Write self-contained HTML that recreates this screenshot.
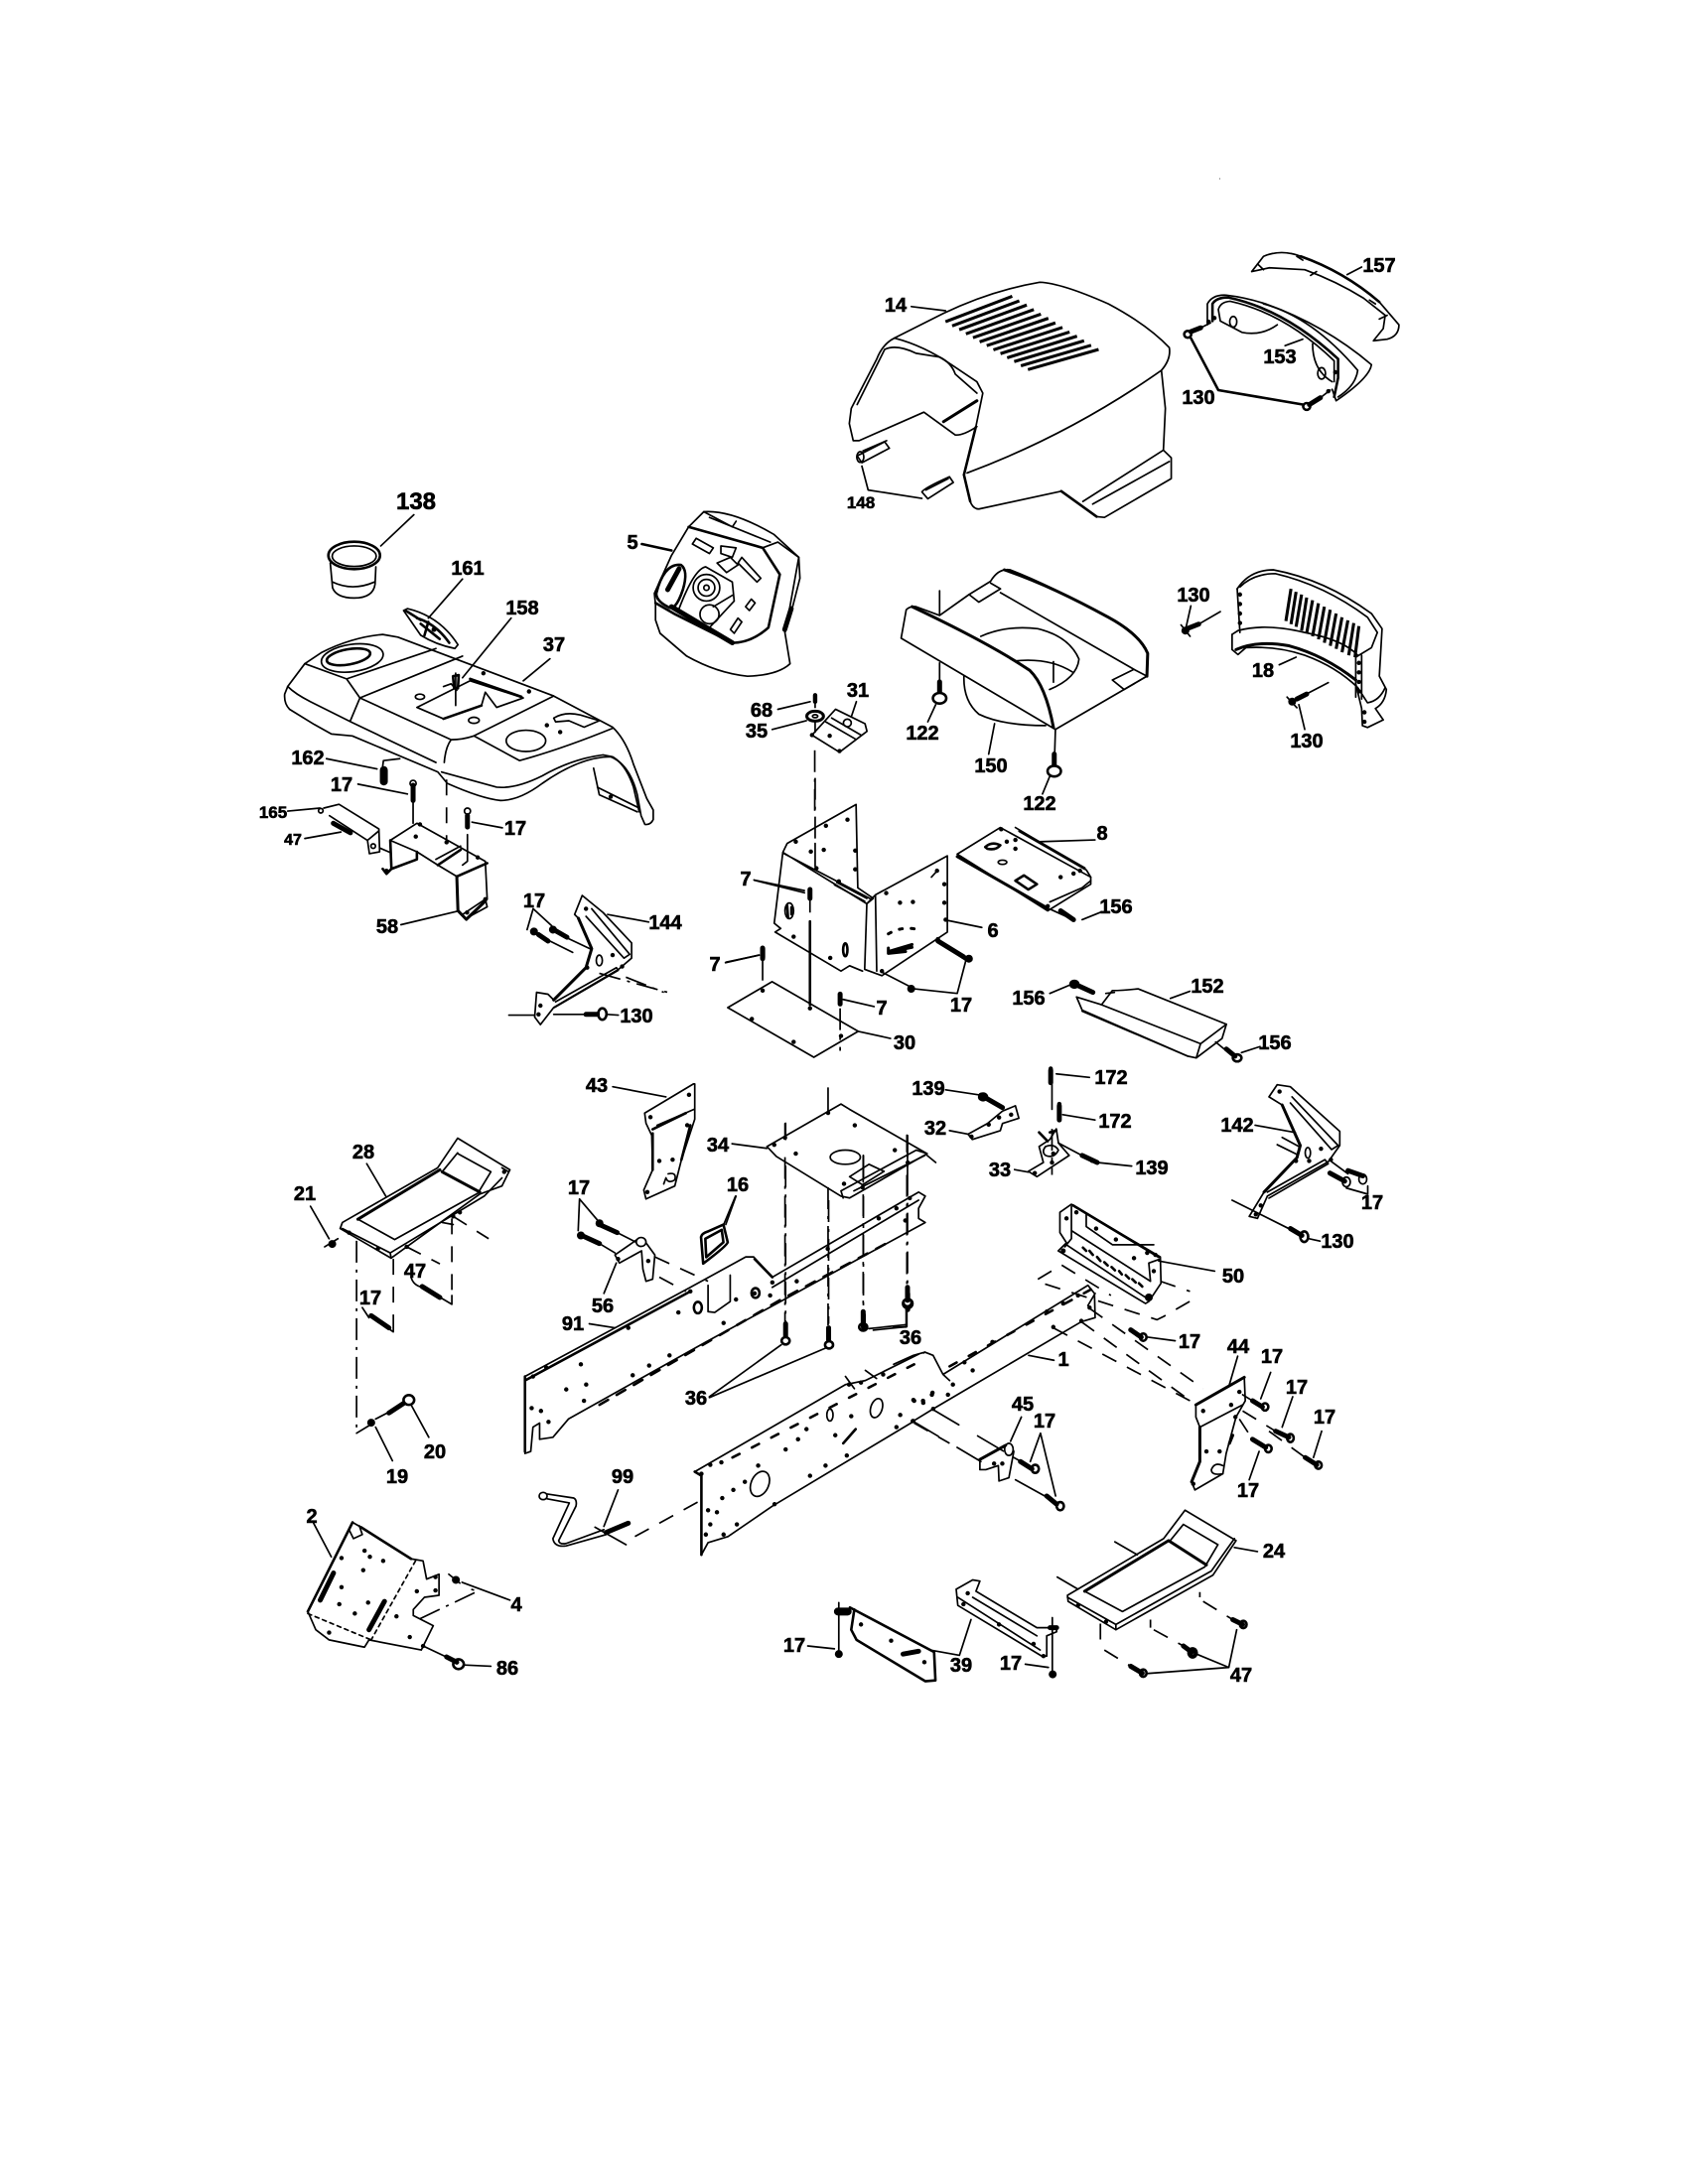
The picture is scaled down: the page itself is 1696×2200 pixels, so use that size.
<!DOCTYPE html>
<html><head><meta charset="utf-8"><style>
html,body{margin:0;padding:0;background:#fff}
svg{display:block}
.g *{vector-effect:non-scaling-stroke}
.g{fill:none;stroke:#000;stroke-width:1.7;stroke-linejoin:round;stroke-linecap:round}
.t{stroke-width:2.6}
.v{stroke-width:3.1;stroke-linecap:butt}
.d{stroke-width:4.4}
.s{stroke-width:3}
.b{stroke-width:8}
.m{stroke-width:5}
.l{stroke-dasharray:22 7 3 7;stroke-linecap:butt}
.k{stroke-dasharray:16 12;stroke-linecap:butt}
.w{fill:#fff}
text{font-family:"Liberation Sans",sans-serif;font-weight:bold;font-size:20px;fill:#000;stroke:#000;stroke-width:.6px;text-anchor:middle}
</style></head><body>
<svg width="1696" height="2200" viewBox="0 0 1696 2200" xmlns="http://www.w3.org/2000/svg">
<rect width="1696" height="2200" fill="#fff"/>

<!-- Crop 1 region -->
<g class="g" transform="translate(240,460) scale(.3827)">
<ellipse cx="305" cy="260" rx="68" ry="36" class="t"/><ellipse cx="305" cy="262" rx="58" ry="27"/>
<path d="M242 280L248 345Q258 372 305 372Q355 372 360 335L362 290M248 330Q300 355 358 330M375 235L462 153"/>
<path d="M435 405L445 400Q530 420 578 495L570 505Q520 495 480 470Z"/><path class="t" d="M470 425Q520 440 555 490M480 440L530 480M500 435L490 470M440 405L480 430"/><path class="m" d="M515 455h.1"/>
<path d="M500 425L590 322"/>
<!-- hood 37 -->
<path d="M122 625L130 605L175 545L220 515Q300 475 380 468L420 475L830 630L985 712Q1020 745 1040 810L1075 900L1092 930L1092 955Q1085 970 1070 968L1060 945L1050 890Q1030 810 980 790Q900 790 800 860Q740 905 690 905Q640 900 550 860L525 830L300 735L245 730L200 705L135 665Q120 650 122 625Z"/>
<path d="M130 605Q150 625 190 645L300 700L520 805M535 830L680 870Q730 875 800 840Q880 795 960 785L985 790Q1020 810 1040 870L1055 935"/>
<path d="M175 545L285 585L320 635L560 745Q590 745 620 735L830 630M285 585L520 505M320 635L590 525M320 635L295 695M620 735L740 800Q850 770 985 715M560 745Q545 765 542 805"/>
<ellipse cx="300" cy="530" rx="82" ry="36" transform="rotate(-8 300 530)"/><ellipse cx="290" cy="527" rx="58" ry="20" class="t" transform="rotate(-10 290 527)"/>
<path d="M470 660L610 590L750 635L680 660L650 620L640 655L540 690Z"/><path class="t" d="M540 690L640 655M610 585L745 632"/><path d="M540 605L560 598L575 615M572 570L572 655"/>
<path class="t" d="M565 578L580 575L578 610L568 610Z"/><ellipse cx="478" cy="632" rx="12" ry="7"/><ellipse cx="620" cy="694" rx="14" ry="8"/>
<ellipse cx="757" cy="748" rx="52" ry="28"/>
<path d="M830 688Q860 670 900 680L950 695L910 712L870 695L835 698Z"/>
<path class="d" d="M812 707h.1M847 725h.1M645 570h.1M765 618h.1"/>
<path d="M935 820L950 890L1050 935"/><path class="d" d="M980 895h.1"/><path d="M945 870L1055 925"/>
<path d="M590 582L718 425M750 590L820 532M972 1205L1080 1225"/>
<!-- 162 -->
<path d="M232 795L365 822M380 815L382 800L425 795"/><path class="b" d="M383 825V855"/>
<path d="M315 862L445 888M460 905V965"/><path class="m" d="M460 865V905"/><circle cx="460" cy="860" r="8"/>
<path class="k" d="M548 850V1010"/>
<path class="m" d="M603 945V975"/><circle cx="603" cy="933" r="8"/><path d="M615 962L695 977M603 995V1065M603 1065L590 1075"/>
<!-- 165/47 -->
<path d="M130 933L215 925M175 1005L270 988"/><circle cx="217" cy="932" r="6"/>
<path d="M225 925L265 915L370 980L372 1040L345 1045L340 1010L240 945"/><path d="M340 1010L370 985"/><path class="m" d="M250 965L295 990"/>
<circle cx="355" cy="1025" r="6"/><path d="M372 1030L400 1042"/>
<!-- 58 -->
<path d="M400 1010L470 965L650 1065L655 1165L600 1218L578 1195L575 1105L525 1075L470 1040Z"/>
<path class="t" d="M400 1010L403 1085L390 1098L380 1085M403 1085L470 1060L470 1040M525 1075L585 1035M575 1105L655 1070"/><path class="s" d="M575 1105L578 1195L600 1218L650 1170"/>
<path d="M590 1205L650 1165L655 1185L600 1215M520 1060L585 1025"/>
<path class="d" d="M467 1000h.1M548 1015h.1M478 968h.1M630 1055h.1M390 1090h.1M602 1200h.1M650 1165h.1"/>
<path d="M428 1232L575 1197"/>
<!-- 144 -->
<path d="M905 1155L885 1205L895 1215L930 1295L915 1345L830 1430L815 1415L785 1410L780 1475L795 1495L830 1450L1000 1350L1035 1320L1035 1280L960 1200Z"/>
<path d="M930 1190L1030 1310L1015 1320L915 1210M835 1435L995 1345L1000 1352L832 1450"/><path class="s" d="M895 1215L930 1295L915 1345L830 1430"/>
<path class="d" d="M915 1190h.1M985 1312h.1M918 1345h.1M1010 1342h.1M795 1445h.1M790 1468h.1"/><ellipse cx="950" cy="1326" rx="8" ry="14"/>
<path class="l" d="M950 1360L1130 1410M1020 1370L1120 1410"/>
<path d="M776 1190L760 1245M776 1190L825 1235M800 1265L880 1305M840 1255L925 1295"/><path class="m" d="M835 1248L865 1265M790 1258L815 1275"/><path class="b" d="M828 1245h.1M778 1250h.1"/>
<path d="M712 1470H780M830 1468H910"/><path class="m" d="M915 1468H945"/><ellipse cx="958" cy="1467" rx="11" ry="15" class="t"/><path d="M970 1468L1000 1470"/>
<!-- 5 -->
<path d="M1098 390L1095 360L1140 260L1185 185L1225 145Q1300 140 1410 205L1475 265L1478 320L1455 410L1438 460L1452 545Q1420 575 1340 578Q1260 570 1180 525L1110 465L1098 430Z"/>
<path class="t" d="M1185 185L1380 240L1425 310L1395 450Q1350 490 1300 490L1150 415L1098 385"/><path d="M1225 145L1300 185L1310 170M1240 160L1400 225M1380 240L1420 225L1475 265L1440 460"/><path class="m" d="M1140 395L1300 490M1455 400L1438 455"/>
<path class="t" d="M1100 360Q1120 280 1165 285Q1185 300 1170 350Q1150 410 1130 395Q1100 380 1100 360Z"/><path class="m" d="M1130 350L1160 295"/>
<path d="M1160 400Q1200 295 1230 290L1300 330L1305 380L1240 450"/><circle cx="1232" cy="345" r="35"/><circle cx="1232" cy="345" r="22"/><circle cx="1232" cy="345" r="7"/><circle cx="1240" cy="415" r="25"/><path d="M1250 395L1300 365"/>
<path d="M1335 395L1350 375L1360 385L1345 405ZM1295 455L1315 425L1325 435L1305 465Z"/>
<path d="M1195 230L1205 215L1250 240L1240 255ZM1315 280L1325 265L1375 320L1365 330ZM1270 235L1310 240L1300 265L1270 255ZM1260 280L1295 265L1315 285L1285 305Z"/>
<path class="t" d="M1062 230L1140 247"/>
<!-- 68 35 -->
<path d="M1420 665L1505 645M1405 718L1495 695"/><path class="d" d="M1518 628V645"/><path d="M1518 645V660"/>
<ellipse cx="1518" cy="683" rx="22" ry="13" class="s"/><ellipse cx="1518" cy="683" rx="7" ry="4"/>
<path d="M1518 700V725"/>
<path d="M1358 1115L1490 1148"/>
<path d="M1282 1332L1370 1312"/><path class="m" d="M1380 1295V1318"/>
</g>

<!-- Crop 2 region -->
<g class="g" transform="translate(800,220) scale(.3954,.3827)">
<path d="M255 315L380 250Q500 190 625 168Q680 170 800 225Q900 280 955 340Q960 370 935 400L945 500L940 610L960 630L960 685L790 787L770 785L680 718L470 765Q455 765 448 745L432 675L462 550L480 460L465 430L400 385Q330 335 255 315Z"/>
<path d="M255 315Q225 330 210 370L145 500L140 540L150 585L165 585L330 510L410 570Q430 572 465 548M230 345Q260 330 310 355L370 365Q400 380 410 410L465 460M160 490L230 345"/>
<path class="s" d="M380 535L465 480"/><path class="t" d="M432 675L448 745M462 550L432 675"/>
<path d="M440 670Q700 570 935 400M735 745L940 610M760 752L955 640"/><path class="t" d="M680 718L770 785"/>
<path d="M298 232L385 243"/>
<path class="v" d="M385 272L555 205M402 283L573 217M420 293L592 228M437 304L610 240M455 314L628 252M472 325L647 263M490 335L665 275M507 346L683 287M525 356L701 299M542 367L720 310M560 377L738 322M577 388L756 334M595 398L775 345"/>
<path d="M160 625L230 588L242 605L172 643Z"/><ellipse cx="168" cy="628" rx="9" ry="14"/><path d="M175 612L235 585"/>
<path d="M325 720Q330 710 395 680L405 695L340 738Z"/><path d="M335 715L392 685"/>
<path d="M172 652L188 715L325 737"/>
<!-- 157 -->
<path d="M1165 140L1195 100Q1240 80 1290 100Q1400 140 1490 220L1540 280Q1540 310 1510 318L1475 322L1500 290L1505 255L1450 210Q1380 165 1300 135L1210 130L1165 140Z"/>
<path d="M1180 120L1195 135M1280 100L1295 110M1315 150L1330 140M1465 215L1480 225M1490 265L1510 255"/><path class="t" d="M1290 100Q1400 140 1490 220"/>
<path d="M1408 148L1445 128"/>
<!-- 153 -->
<path d="M1052 280L1052 225Q1065 200 1100 202Q1150 208 1200 225Q1350 280 1470 385Q1465 420 1380 480L1370 450"/>
<path class="t" d="M1065 270L1065 225Q1075 208 1105 208Q1250 240 1385 370L1385 420L1375 470"/><path d="M1080 240Q1085 220 1110 218Q1250 250 1375 375L1375 430M1080 240L1085 270L1140 300Q1190 310 1230 280M1320 330Q1320 400 1370 430M1195 225Q1320 260 1435 400Q1430 440 1385 470"/>
<ellipse cx="1118" cy="272" rx="9" ry="14"/><ellipse cx="1343" cy="408" rx="10" ry="15"/>
<path class="d" d="M1055 272h.1M1070 262h.1M1378 405h.1M1360 455h.1"/>
<path d="M1250 335L1295 318"/>
<circle cx="1002" cy="305" r="9" class="t"/><path class="m" d="M1010 298L1035 288"/><path d="M1035 288L1060 275"/>
<circle cx="1305" cy="495" r="9" class="t"/><path class="m" d="M1312 490L1340 472"/><path d="M1340 472L1365 452"/>
<path class="t" d="M1010 315L1080 452L1295 490"/>
<!-- 150 -->
<path d="M272 1105L285 1030Q295 1020 310 1022L370 1045L445 990L500 955Q520 920 550 925Q650 965 800 1050Q880 1095 900 1145L898 1205L665 1345Z"/>
<path class="s" d="M300 1022Q500 1120 600 1190Q640 1230 660 1340M535 925Q650 965 800 1050Q880 1095 900 1145L898 1205"/>
<path d="M475 1100Q540 1070 620 1080Q700 1100 725 1160Q720 1210 650 1240M560 1165Q650 1155 710 1195M432 1205Q430 1270 470 1305Q530 1335 640 1335M525 985L870 1190M445 990L470 1010L525 975L500 960M810 1215L840 1240L898 1205L865 1187Z"/>
<path d="M370 980V1045M370 1170V1250M665 1345L662 1445M510 1330L495 1410M360 1280L340 1325M650 1470L632 1515"/><path class="l" d="M660 1165V1240"/>
<path class="m" d="M370 1220V1250M662 1410V1445"/><ellipse cx="370" cy="1263" rx="17" ry="14" class="t w"/><ellipse cx="662" cy="1455" rx="17" ry="14" class="t w"/>
<!-- 31 -->
<path d="M45 1360L105 1292L180 1330L185 1350L115 1405Z"/><path d="M80 1325L155 1370M95 1315L170 1360"/><circle cx="135" cy="1328" r="10"/><path class="d" d="M45 1360h.1M90 1362h.1M115 1402h.1"/><path d="M145 1312L158 1272"/>
<path d="M52 1400V1560" class="l"/>
<!-- 130 + 18 -->
<path d="M1010 1020L998 1075M1010 1080L1085 1035M1285 1280L1300 1345M1280 1265L1360 1222"/>
<path class="b" d="M996 1085h.1M1268 1272h.1"/><path class="m" d="M1005 1078L1030 1068M1280 1265L1305 1252"/><path d="M985 1070L1008 1100M1255 1260L1280 1288"/>
<path d="M1128 975Q1160 925 1220 925Q1350 950 1470 1040L1497 1080L1490 1205L1508 1240Q1505 1275 1480 1290L1500 1320L1460 1340L1447 1335L1445 1290L1430 1225"/>
<path d="M1135 970Q1170 935 1225 935Q1350 965 1460 1050L1485 1090L1470 1130L1430 1155M1115 1095L1130 1085Q1200 1065 1300 1090Q1400 1110 1435 1150"/>
<path class="s" d="M1125 1135Q1180 1110 1260 1125Q1350 1150 1430 1215"/>
<path d="M1115 1095V1135L1130 1148L1150 1130Q1230 1125 1300 1150Q1380 1180 1435 1235L1460 1275Q1490 1270 1505 1235M1128 975L1135 1090M1430 1155V1260M1445 1150V1265"/>
<path class="d" d="M1135 990h.1M1135 1015h.1M1135 1040h.1M1135 1065h.1M1438 1170h.1M1438 1195h.1M1438 1220h.1M1438 1245h.1M1452 1300h.1M1452 1325h.1"/>
<path class="v" d="M1265 975L1252 1060M1278 983L1265 1068M1292 990L1278 1075M1305 998L1292 1085M1320 1005L1305 1092M1335 1013L1320 1100M1350 1022L1335 1108M1365 1030L1350 1117M1380 1040L1365 1125M1395 1050L1380 1133M1410 1058L1395 1142M1425 1065L1412 1150M1438 1073L1428 1155"/>
<path d="M1235 1175L1278 1155"/>
</g>

<!-- Crop 3 region -->
<g class="g" transform="translate(680,780) scale(.4337,.3571)">
<path d="M260 195L420 85L424 320L460 350L445 365L250 220L230 420L245 435L232 445L385 555L405 540L435 555M260 195L250 220M250 222L455 352"/>
<path d="M370 312L440 358M375 305L445 350"/>
<path class="d" d="M280 190h.1M350 145h.1M400 128h.1M418 215h.1M418 268h.1M315 218h.1M345 213h.1M328 265h.1M380 302h.1M275 458h.1M360 518h.1"/>
<path class="t" d="M260 370L262 405M270 375L270 395"/><ellipse cx="265" cy="385" rx="10" ry="22"/><ellipse cx="395" cy="495" rx="5" ry="18" class="t"/>
<path d="M445 365L440 550L480 568L632 445L632 230L465 340L445 365M465 340L468 555"/><path class="d" d="M490 335h.1M608 272h.1M625 310h.1M625 362h.1M628 410h.1M522 362h.1M552 360h.1M480 555h.1M610 465h.1"/>
<path class="s" d="M495 450Q530 425 570 440" stroke-dasharray="3 9"/><path class="s" d="M495 500L550 480M495 490L495 505L535 500M510 498L550 488"/>
<path d="M595 290L610 270"/>
<path d="M632 412L712 432"/>
<path d="M183 298L300 328"/><path class="m" d="M313 325V350"/>
<path d="M313 350V390" class="l"/><path class="t" d="M313 415V650"/><path class="l" d="M325 10V190"/><path d="M325 195V260"/>
<path d="M118 530L195 510"/><path class="m" d="M203 490V520"/><path class="l" d="M203 520V600"/>
<path d="M122 658L225 585L425 725L322 798Z"/><path class="d" d="M203 610h.1M178 690h.1M313 660h.1M275 755h.1M385 738h.1"/>
<path d="M425 725L500 745"/>
<path d="M390 635L462 655"/><path class="m" d="M383 620V648"/><path class="l" d="M383 660V780"/>
<path d="M610 470L675 525L655 618L555 605L480 558"/><path class="b" d="M682 520h.1M548 605h.1"/><path class="m" d="M610 470L670 515"/>
<!-- 8 -->
<path d="M655 225L755 150L965 290L965 310L865 385L655 225"/><path class="s" d="M655 232L865 378"/><path d="M790 150L955 270M870 360L945 320L965 300M955 270L965 290"/><path class="s" d="M800 160L950 265"/>
<path class="t" d="M720 205Q735 188 755 200Q745 215 725 210ZM790 300L810 285L840 310L820 325Z"/><ellipse cx="760" cy="248" rx="10" ry="6"/>
<path class="d" d="M770 190h.1M790 210h.1M790 185h.1M757 155h.1M895 290h.1M925 280h.1M865 372h.1M940 272h.1"/>
<path d="M845 190L975 185"/>
<path d="M870 380L915 405"/><path class="m" d="M895 385L925 410"/><path d="M945 410L990 388"/>
<!-- 152 -->
<path d="M932 628L945 665L1190 795L1210 800L1270 745L1280 705L1075 605Q1040 610 1015 610L990 650L932 628Z"/><path d="M990 650L1220 760L1210 800M1220 760L1280 705M1000 618L1020 615M1190 795L945 668"/>
<path d="M870 618L915 595M1150 632L1195 612"/><path class="m" d="M925 590L970 615"/><circle cx="927" cy="592" r="7" class="d"/>
<path d="M1255 755L1290 790"/><path class="m" d="M1280 775L1300 795"/><circle cx="1305" cy="800" r="10" class="t"/><path d="M1315 785L1358 768"/>
<!-- 172 -->
<path d="M885 845L962 855M900 960L975 975M875 875V945"/><path class="m" d="M872 835V870M892 935V975"/><path class="d" d="M872 830h.1M892 930h.1"/>
<path class="l" d="M875 1000V1130"/>
<!-- 139 32 -->
<path d="M628 890L710 905"/><path class="m" d="M710 905L760 940"/><circle cx="715" cy="910" r="7" class="d"/>
<path d="M680 1015L725 985L760 950L790 935L798 970L760 985L755 1005L690 1030Z"/><path class="d" d="M688 1022h.1M728 988h.1M752 968h.1M780 960h.1"/><path d="M637 1005L680 1015"/>
<!-- 33 -->
<path d="M820 1120L855 1095L845 1050L870 1030L885 1000L890 1040L915 1075L840 1135L820 1120"/><path d="M860 1050Q880 1040 890 1060Q880 1085 860 1075Q850 1065 860 1050Z"/><path class="t" d="M870 1010L885 1005M845 1010L865 1035"/><path class="d" d="M835 1125h.1M878 1070h.1M875 1095h.1"/>
<path d="M788 1115L820 1122M890 1040L960 1085"/><path class="m" d="M945 1075L980 1095"/><path class="d" d="M968 1090h.1"/><path d="M980 1095L1060 1105"/>
<!-- 34 -->
<path d="M213 1050L385 930L405 945L585 1070L405 1195L385 1190L235 1078Z"/><path d="M390 1195L385 1175L560 1060L585 1070M415 1175L580 1075M585 1075L605 1095"/>
<ellipse cx="395" cy="1080" rx="35" ry="20"/><path d="M405 1135L450 1100L485 1120L435 1158Z"/>
<path class="d" d="M255 1025h.1M230 1045h.1M355 955h.1M417 990h.1M280 1070h.1M510 1060h.1M392 1155h.1M435 1165h.1M540 1095h.1"/>
<path d="M132 1042L213 1055M355 885V955M255 985V1020M538 1018V1065M437 1075V1140"/>
<path class="l" d="M255 1080V1560M355 1165V1560M437 1190V1510M538 1130V1450"/>
<path class="m" d="M540 1465V1510M437 1525V1560"/><ellipse cx="540" cy="1493" rx="11" ry="13" class="t w"/>
<path d="M538 1510V1558L460 1568"/>
<!-- 16 -->
<path class="t" d="M60 1305Q62 1295 75 1290L112 1270L122 1320Q120 1330 65 1380Z"/><path class="t" d="M70 1310L108 1285L112 1320L72 1362Z"/><path d="M112 1272L140 1190"/>
</g>

<!-- Crop 4 region -->
<g class="g" transform="translate(260,1060) scale(.4464,.4082)">
<!-- 43 -->
<path d="M800 85L920 110M982 78L872 150L875 175L888 205L890 290L870 340L875 362L940 330L955 265L985 165L985 78ZM900 180L985 140"/><path class="t" d="M890 190L965 150M890 200V290M955 265L975 180"/><path class="d" d="M972 105h.1M968 180h.1M935 265h.1M878 345h.1M905 268h.1M885 160h.1"/><path d="M925 300Q945 295 940 315Q925 325 920 310M920 310L915 325"/>
<!-- 28 -->
<path d="M190 420L405 285L450 212L568 290L550 330L500 350L300 508L185 435Z"/><path class="s" d="M225 412L410 290M500 345L415 295"/><path d="M225 412L308 462L500 345M450 250L525 295L500 340M415 295L450 248M190 435L298 495L300 508M298 495L510 355L550 310M550 285L565 295"/>
<path class="d" d="M205 445h.1M270 485h.1M335 480h.1M440 405h.1M455 395h.1M555 295h.1"/><path d="M415 420L440 425"/>
<path d="M245 275L288 355M118 380L160 460"/><path class="b" d="M167 473h.1"/><path d="M150 480L180 460"/><path class="l" d="M222 465V940"/><path d="M222 940L255 918"/>
<path class="k" d="M305 510V650"/><path d="M305 650V690L265 660"/><path class="m" d="M255 650L295 680"/><path d="M235 630L250 655"/>
<path class="k" d="M437 410V600"/><path d="M437 600V622L380 585"/><path class="m" d="M370 578L410 605"/><path d="M345 555Q350 575 370 580"/>
<path class="k" d="M335 480L410 522M440 405L520 460"/>
<!-- 19,20 -->
<path d="M265 905L300 885"/><path class="m" d="M295 890L330 865"/><circle cx="340" cy="858" r="12" class="t w"/><path class="b" d="M255 914h.1"/><path d="M345 870L385 950M265 925L303 1008"/>
<!-- 17/56 -->
<path d="M725 362L722 440M725 362L770 420"/><path class="m" d="M770 425L810 445M730 452L770 472"/><path class="b" d="M770 422h.1M728 452h.1"/>
<path d="M810 445L855 470M770 472L805 495"/>
<path d="M805 500L855 462L875 470L895 500L890 560L875 565L868 535L865 490L815 520Z"/><circle cx="864" cy="468" r="11" class="w"/><path class="d" d="M812 510h.1M880 515h.1"/><path d="M808 520L780 595"/>
<path class="k" d="M895 505L1015 565M905 555L965 590"/>
<path d="M1055 425L1078 355"/>
<!-- 91 -->
<path d="M602 800L975 580L1100 505L1118 505L1160 555L1490 345L1505 355L1490 385L1490 410L1505 420L1170 620L1010 715L700 905L665 950L635 955L635 915L620 925L615 985L602 990Z"/>
<path class="t" d="M602 800V985M602 810L975 590M1120 510L1160 555"/>
<path d="M1015 575V640L1030 642L1065 615V550M1160 580L1490 365"/>
<path class="t" d="M770 870L1180 610L1420 470" stroke-dasharray="10 10"/>
<path class="d" d="M620 800h.1M650 778h.1M728 770h.1M695 832h.1M740 820h.1M735 860h.1M617 878h.1M638 885h.1M655 912h.1M835 680h.1M845 797h.1M882 773h.1M928 748h.1M948 642h.1M975 590h.1M1078 610h.1M1050 668h.1M1155 600h.1M1215 565h.1M1160 568h.1M1285 485h.1M1400 410h.1M1440 385h.1M1470 360h.1M1460 415h.1M1120 595h.1"/>
<ellipse cx="992" cy="630" rx="9" ry="14" class="t"/><ellipse cx="1122" cy="594" rx="9" ry="12" class="t"/>
<path d="M747 670L805 680"/>
<path class="l" d="M1190 280V665M1287 365V670M1365 255V635M1465 205V575"/>
<path d="M1190 175V215M1365 255V320M1465 205V300"/>
<path class="m" d="M1190 670V700M1287 680V710M1365 640V672M1465 580V612"/>
<circle cx="1190" cy="712" r="9" class="t"/><circle cx="1288" cy="722" r="9" class="t"/><circle cx="1365" cy="678" r="9" class="t"/><circle cx="1465" cy="618" r="9" class="t"/>
<path d="M1378 682L1463 672V632M1018 850L1180 722M1018 852L1280 730"/>
<!-- 99 -->
<circle cx="643" cy="1095" r="9" class="w"/><path d="M652 1090L712 1100Q720 1105 717 1120L678 1205Q680 1215 695 1212L780 1178M652 1102L702 1112L665 1200Q668 1222 695 1218L785 1190"/>
<path class="m" d="M785 1185L835 1162"/><path d="M760 1172L830 1215M812 1080L780 1170"/><path class="k" d="M850 1195L995 1108"/>
<!-- 1 left part -->
<path class="t" d="M985 1035L1000 1045V1240"/><path d="M985 1035L1325 820L1370 810L1490 745M1000 1240L1015 1210L1060 1195L1160 1120L1480 910"/>
<path d="M1325 800L1345 830M1370 785L1395 805"/>
<ellipse cx="1132" cy="1065" rx="20" ry="32" transform="rotate(20 1132 1065)"/>
<ellipse cx="1395" cy="878" rx="13" ry="24" transform="rotate(15 1395 878)"/><ellipse cx="1290" cy="895" rx="7" ry="15"/><path class="t" d="M1320 965L1348 930"/>
<path class="t" d="M1070 1000L1480 770" stroke-dasharray="8 14"/>
<path class="d" d="M1000 1040h.1M1020 1018h.1M1045 1012h.1M1128 1020h.1M1098 1060h.1M1072 1080h.1M1047 1100h.1M1015 1130h.1M1035 1135h.1M1020 1165h.1M1050 1190h.1M1080 1165h.1M1010 1190h.1M1190 980h.1M1218 955h.1M1237 930h.1M1302 945h.1M1338 898h.1M1280 1020h.1M1245 1045h.1M1328 995h.1M1165 1115h.1M1440 925h.1M1478 910h.1M1480 860h.1M1500 860h.1M1520 845h.1M1333 820h.1M1360 815h.1M1410 795h.1"/>
<path class="k" d="M1480 915L1560 965"/>
<!-- 2 -->
<path d="M213 1160L112 1380L130 1425L160 1450L240 1468L250 1450L368 1475L395 1415L350 1390L350 1375L375 1345L408 1340L408 1288L380 1300L372 1255L345 1250L232 1172Z"/><path class="t" d="M213 1160L112 1380M232 1172L345 1250"/><path d="M205 1178L215 1200L235 1190L228 1168"/>
<path d="M112 1385L255 1450M355 1255L255 1450" stroke-dasharray="4 4"/>
<path class="m" d="M170 1285L140 1352M285 1355L250 1425"/>
<path class="d" d="M240 1230h.1M282 1255h.1M252 1245h.1M188 1248h.1M237 1278h.1M188 1320h.1M183 1362h.1M218 1385h.1M248 1358h.1M312 1392h.1M342 1443h.1M358 1330h.1M400 1295h.1M400 1328h.1M160 1432h.1M372 1465h.1"/>
<path d="M165 1245L125 1162"/>
<path class="l" d="M365 1398L495 1330L480 1325"/>
<path d="M460 1308L568 1352"/><path class="b" d="M446 1302h.1"/><path d="M430 1288L455 1310"/>
<path d="M372 1465L430 1495"/><path class="m" d="M425 1492L448 1505"/><circle cx="452" cy="1510" r="12" class="t"/><path d="M465 1512L525 1515"/>
<!-- 39 left -->
<path d="M1310 1358V1475M1240 1465L1300 1472"/><path class="b" d="M1308 1380H1330M1310 1485h.1"/>
<path class="t" d="M1335 1370L1525 1480L1528 1550L1505 1552L1350 1450L1338 1425L1345 1375"/><path class="m" d="M1455 1485L1490 1478"/><path class="d" d="M1360 1412h.1M1428 1452h.1M1503 1505h.1"/>
</g>

<!-- Crop 5 region -->
<g class="g" transform="translate(900,1060) scale(.3316,.4082)">
<!-- 142 -->
<path d="M1165 80L1140 110L1180 130L1235 230L1225 260L1125 345L1080 405L1105 410L1135 355L1320 270L1355 230L1355 195L1205 85Z"/><path class="s" d="M1180 130L1235 230L1225 260L1125 345"/><path d="M1210 110L1350 230L1330 240L1205 125M1135 345L1310 265L1320 275L1140 360"/>
<path class="d" d="M1172 97h.1M1298 238h.1M1222 268h.1M1328 265h.1M1115 378h.1M1100 400h.1M1262 268h.1"/><ellipse cx="1258" cy="248" rx="8" ry="13"/>
<path d="M1098 180L1220 198M1180 210L1230 232M1165 228L1225 252"/>
<path d="M1028 365L1200 435"/><path class="m" d="M1205 435L1240 452"/><ellipse cx="1247" cy="455" rx="12" ry="13" class="t"/><path d="M1262 460L1295 466"/>
<path d="M1330 270L1380 300"/><path class="m" d="M1325 298L1370 318M1380 292L1425 305"/><ellipse cx="1375" cy="320" rx="12" ry="12"/><ellipse cx="1425" cy="313" rx="12" ry="12"/><path d="M1375 335L1440 350V330"/>
<!-- 50 -->
<path d="M505 395L540 375L810 505L812 570L775 615L765 620L500 490L525 470L505 445Z"/><path d="M540 380V460L520 480M585 400V430L665 475H790M540 440L780 565L775 520L810 510M525 475L765 605"/><path class="t" d="M545 378L805 505"/>
<path class="d" d="M525 410h.1M555 395h.1M615 435h.1M675 462h.1M730 508h.1M770 495h.1M795 500h.1M790 540h.1M775 605h.1"/><path class="m" d="M515 490h.1"/><path class="b" d="M775 605h.1"/>
<path class="t" d="M575 482L585 490M595 490L605 500M618 505L628 515M640 518L650 526M662 530L672 538M685 540L693 548M705 550L715 558M725 560L735 568M745 570L755 578"/>
<path d="M805 515L975 540"/>
<path class="k" d="M438 560L510 525L660 600M460 572L800 660L820 652L920 605M810 565L900 590"/>
<!-- 36 tail -->
<path d="M0 678H38V630"/>
<!-- 1 right part -->
<path d="M91 742L95 740L120 748L150 795L590 575L610 595L612 655L570 665L120 880L60 910M612 595L590 625M150 795L170 810"/>
<path d="M0 770L60 748L95 740"/>
<path class="t" d="M170 775L600 585" stroke-dasharray="8 14"/>
<path class="d" d="M118 840h.1M60 858h.1M90 865h.1M165 845h.1M180 820h.1M240 785h.1M215 765h.1M300 715h.1M465 640h.1M515 620h.1M560 600h.1M595 630h.1M570 663h.1M485 678h.1M120 880h.1M58 910h.1M20 895h.1"/>
<path d="M410 748L487 760"/>
<path class="k" d="M595 632L940 830M570 665L910 865M485 680L900 860"/>
<path d="M120 882L335 985M58 910L265 1010" stroke-dasharray="30 22"/>
<path class="m" d="M720 685L752 703"/><ellipse cx="758" cy="703" rx="10" ry="9" class="t"/><path d="M772 703L855 712"/>
<!-- 45 -->
<path d="M262 1005L350 965L365 985L350 1050L320 1058L318 1020L280 1030L262 1030Z"/><ellipse cx="350" cy="980" rx="13" ry="15" class="w"/><path class="s" d="M262 1005L340 970"/><path class="d" d="M305 1015h.1M330 1015h.1"/><path d="M355 960L388 900"/>
<path d="M365 1000L405 1018M370 1055L470 1100"/><path class="m" d="M385 1010L420 1028M465 1095L495 1115"/><ellipse cx="430" cy="1028" rx="11" ry="10" class="t"/><ellipse cx="506" cy="1120" rx="11" ry="10" class="t"/>
<path d="M446 940L415 1010M446 940L492 1095"/>
<!-- 44 -->
<path d="M918 870L1065 802L1068 860L1040 900L1010 990L1000 1040L915 1080L905 1060L930 1010L930 925L918 900Z"/><path class="s" d="M918 870L1065 802M930 925V1010L905 1060"/><path d="M930 925L1060 870M1000 1040Q965 1045 965 1030Q975 1010 1000 1020"/>
<path class="d" d="M940 885h.1M1050 838h.1M1025 870h.1M1038 900h.1M990 985h.1M910 1065h.1M950 985h.1"/><path class="s" d="M1020 965L1030 945"/>
<path d="M1045 750L1018 825M1145 790L1115 855"/>
<path d="M1060 845L1090 860"/><path class="m" d="M1090 860L1120 875"/><ellipse cx="1128" cy="875" rx="10" ry="9" class="t"/>
<path class="k" d="M1060 885L1160 935M1050 905L1090 955"/><path class="m" d="M1160 935L1200 950M1090 955L1130 975"/><ellipse cx="1205" cy="952" rx="10" ry="10" class="t"/><ellipse cx="1138" cy="978" rx="10" ry="9" class="t"/><path d="M1212 850L1180 925M1110 985L1080 1055M1300 935L1275 1000"/>
<path class="k" d="M1140 935L1250 1000"/><path class="m" d="M1250 1000L1285 1018"/><ellipse cx="1290" cy="1019" rx="10" ry="9" class="t"/>
<!-- 24 -->
<path d="M528 1340L820 1200L885 1130L1040 1205L970 1290L675 1425L530 1355Z"/><path class="s" d="M580 1330L835 1205L950 1265"/><path d="M580 1330L695 1380L945 1270L985 1215L880 1165L840 1205M528 1345L675 1412V1425M675 1412L965 1280L1035 1200"/>
<path class="d" d="M560 1365h.1M645 1405h.1"/><path d="M1035 1222L1105 1232M672 1208L740 1240M497 1295L560 1325"/>
<path class="k" d="M628 1410V1460M780 1400V1420M930 1332V1345M640 1475L720 1515M790 1425L880 1465M940 1355L1030 1400"/>
<path class="m" d="M720 1515L755 1532M880 1465L905 1480M1030 1400L1060 1412"/><ellipse cx="758" cy="1532" rx="10" ry="9" class="t"/><ellipse cx="908" cy="1482" rx="10" ry="9" class="d"/><ellipse cx="1062" cy="1412" rx="10" ry="9" class="t"/>
<path d="M770 1533L1018 1518L1042 1425M920 1485L1018 1518"/>
<!-- 39 right -->
<path d="M190 1325L240 1302L262 1305L250 1330L435 1420L495 1420V1430L465 1440L465 1490L450 1490L195 1365Z"/><path d="M195 1345L445 1475M240 1345L435 1440"/><path class="d" d="M212 1362h.1M320 1412h.1M425 1460h.1M455 1490h.1M225 1335h.1"/><path class="m" d="M475 1420H495"/>
<path d="M482 1395V1525M400 1510L470 1518M235 1400L200 1488L110 1475"/><path class="b" d="M483 1535h.1"/>
</g>
<path d="M1228 180h1" stroke="#555" stroke-width="1" fill="none"/>

<!-- Labels -->
<text x="419" y="513" style="font-size:24px">138</text>
<text x="471" y="579">161</text><text x="526" y="619">158</text><text x="558" y="656">37</text>
<text x="637" y="553">5</text><text x="310" y="770">162</text><text x="344" y="797">17</text>
<text x="275" y="824" style="font-size:17px">165</text><text x="295" y="851" style="font-size:16px">47</text>
<text x="519" y="841">17</text><text x="390" y="940">58</text><text x="538" y="914">17</text>
<text x="670" y="936">144</text><text x="641" y="1030">130</text><text x="767" y="722">68</text>
<text x="762" y="743">35</text><text x="751" y="892">7</text><text x="720" y="978">7</text>
<text x="902" y="314">14</text><text x="1389" y="274">157</text><text x="1289" y="366">153</text>
<text x="1207" y="407">130</text><text x="867" y="512" style="font-size:17px">148</text><text x="1202" y="606">130</text>
<text x="1272" y="682">18</text><text x="1316" y="753">130</text><text x="929" y="745">122</text>
<text x="998" y="778">150</text><text x="1047" y="816">122</text><text x="864" y="702">31</text>
<text x="1110" y="846">8</text><text x="1124" y="920">156</text><text x="1000" y="944">6</text>
<text x="888" y="1022">7</text><text x="968" y="1019">17</text><text x="1036" y="1012">156</text>
<text x="1216" y="1000">152</text><text x="911" y="1057">30</text><text x="1284" y="1057">156</text>
<text x="1119" y="1092">172</text><text x="935" y="1103">139</text><text x="1123" y="1136">172</text>
<text x="1246" y="1140">142</text><text x="942" y="1143">32</text><text x="723" y="1160">34</text>
<text x="1007" y="1185">33</text><text x="1160" y="1183">139</text><text x="743" y="1200">16</text>
<text x="1242" y="1292">50</text><text x="601" y="1100">43</text><text x="366" y="1167">28</text>
<text x="307" y="1209">21</text><text x="583" y="1203">17</text><text x="418" y="1287">47</text>
<text x="607" y="1322">56</text><text x="373" y="1314">17</text><text x="577" y="1340">91</text>
<text x="917" y="1354">36</text><text x="701" y="1415">36</text><text x="438" y="1469">20</text>
<text x="400" y="1494">19</text><text x="627" y="1494">99</text><text x="314" y="1534">2</text>
<text x="520" y="1623">4</text><text x="511" y="1687">86</text><text x="800" y="1664">17</text>
<text x="1382" y="1218">17</text><text x="1347" y="1257">130</text><text x="1198" y="1358">17</text>
<text x="1071" y="1376">1</text><text x="1247" y="1363">44</text><text x="1281" y="1373">17</text>
<text x="1306" y="1404">17</text><text x="1334" y="1434">17</text><text x="1030" y="1421">45</text>
<text x="1052" y="1438">17</text><text x="1257" y="1508">17</text><text x="1283" y="1569">24</text>
<text x="968" y="1684">39</text><text x="1018" y="1682">17</text><text x="1250" y="1694">47</text>
</svg>
</body></html>
